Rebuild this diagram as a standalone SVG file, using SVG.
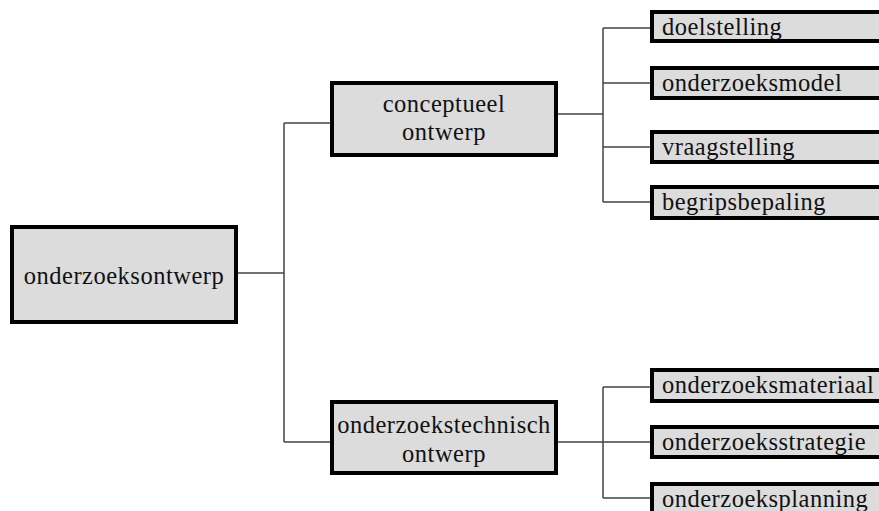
<svg xmlns="http://www.w3.org/2000/svg" width="879" height="511" viewBox="0 0 879 511">
<style>
.box{fill:#dcdcdc;stroke:#000;stroke-width:4}
.t{font-family:"Liberation Serif","Times New Roman",serif;font-size:24.5px;letter-spacing:0.5px;fill:#111}
.c{text-anchor:middle}
.con{fill:none;stroke:#444;stroke-width:1.5}
</style>
<rect width="879" height="511" fill="#fff"/>
<g id="connectors" class="con">
<path d="M238 273H284M284 123V442M284 123H330M284 442H330"/>
<path d="M558 114H603M603 28V202M603 28H650M603 83H650M603 147H650M603 202H650"/>
<path d="M558 442H603M603 387V498M603 387H650M603 442H650M603 498H650"/>
</g>
<g id="onderzoeksontwerp"><rect class="box" x="12" y="227" width="224" height="95"/><text class="t c" x="124" y="284">onderzoeksontwerp</text></g>
<g id="conceptueel"><rect class="box" x="332" y="83" width="224" height="72"/><text class="t c" x="444" y="112">conceptueel</text><text class="t c" x="444" y="140">ontwerp</text></g>
<g id="technisch"><rect class="box" x="332" y="402" width="224" height="71"/><text class="t c" x="444" y="433">onderzoekstechnisch</text><text class="t c" x="444" y="462">ontwerp</text></g>
<g id="doelstelling"><rect class="box" x="652" y="12" width="260" height="29"/><text class="t" x="662" y="35">doelstelling</text></g>
<g id="onderzoeksmodel"><rect class="box" x="652" y="68" width="260" height="30"/><text class="t" x="662" y="91">onderzoeksmodel</text></g>
<g id="vraagstelling"><rect class="box" x="652" y="132" width="260" height="30"/><text class="t" x="662" y="155">vraagstelling</text></g>
<g id="begripsbepaling"><rect class="box" x="652" y="187" width="260" height="31"/><text class="t" x="662" y="210">begripsbepaling</text></g>
<g id="onderzoeksmateriaal"><rect class="box" x="652" y="370" width="260" height="31"/><text class="t" x="662" y="393">onderzoeksmateriaal</text></g>
<g id="onderzoeksstrategie"><rect class="box" x="652" y="427" width="260" height="30"/><text class="t" x="662" y="450">onderzoeksstrategie</text></g>
<g id="onderzoeksplanning"><rect class="box" x="652" y="484" width="260" height="40"/><text class="t" x="662" y="507">onderzoeksplanning</text></g>
</svg>
